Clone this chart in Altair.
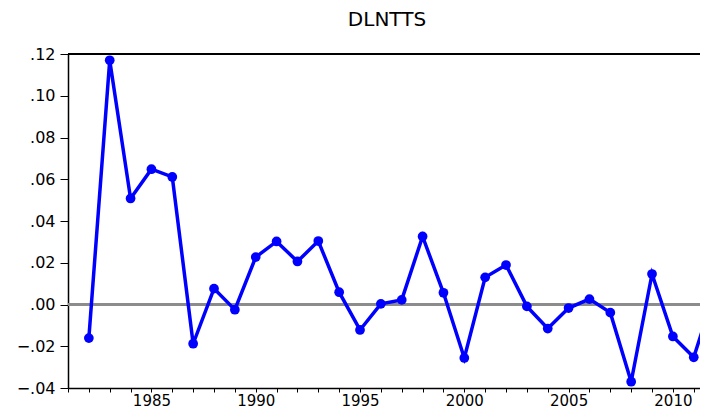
import altair as alt
import pandas as pd

years = list(range(1982, 2013))
values = [-0.0161, 0.1170, 0.0508, 0.0648, 0.0611, -0.0188, 0.0076, -0.0025,
          0.0227, 0.0302, 0.0206, 0.0304, 0.0059, -0.0122, 0.0003, 0.0022,
          0.0326, 0.0056, -0.0256, 0.0130, 0.0189, -0.0009, -0.0115, -0.0017,
          0.0026, -0.0039, -0.0370, 0.0146, -0.0153, -0.0253, 0.0060]
y_ticks = [-0.04, -0.02, 0.0, 0.02, 0.04, 0.06, 0.08, 0.10, 0.12]
x_ticks = list(range(1981, 2012))
title_text = "DLNTTS"

df = pd.DataFrame({"year": years, "value": values})

FONT = "DejaVu Sans"

xenc = alt.X(
    "year:Q",
    scale=alt.Scale(domain=[1981, 2011.3], nice=False, zero=False),
    axis=alt.Axis(
        title=None, values=x_ticks, format="d",
        labelExpr="datum.value % 5 == 0 ? datum.label : ''",
        labelOverlap=False, grid=False, tickSize=4, labelPadding=1,
        domainColor="black", tickColor="black", domainWidth=1.5, tickWidth=1,
        labelFont=FONT, labelFontSize=15, labelColor="black",
    ),
)
yenc = alt.Y(
    "value:Q",
    scale=alt.Scale(domain=[-0.04, 0.12], nice=False, zero=False),
    axis=alt.Axis(
        title=None, values=y_ticks,
        labelExpr="replace(format(datum.value, '.2f'), '0.', '.')",
        grid=False, tickSize=8, labelPadding=5,
        domainColor="black", tickColor="black", domainWidth=1.5, tickWidth=1,
        labelFont=FONT, labelFontSize=16, labelColor="black",
    ),
)

base = alt.Chart(df)

zero_rule = base.mark_rule(color="#8c8c8c", strokeWidth=2).encode(y=alt.datum(0))
top_rule = base.mark_rule(color="black", strokeWidth=2).encode(y=alt.datum(0.12))

line = base.mark_line(color="#0000ff", strokeWidth=3.5, clip=True).encode(x=xenc, y=yenc)
points = base.mark_circle(color="#0000ff", size=95, opacity=1, clip=True).encode(x=xenc, y=yenc)

chart = alt.layer(zero_rule, top_rule, line, points).properties(
    width=632,
    height=334,
    title=alt.TitleParams(title_text, font=FONT, fontSize=20, fontWeight="normal",
                          color="black", offset=16, dx=3),
    padding={"left": 60, "top": 46, "right": 0, "bottom": 23},
    autosize=alt.AutoSizeParams(type="none"),
).configure_view(stroke=None)

chart.save("out.html", embed_options={"renderer": "svg", "actions": False})
